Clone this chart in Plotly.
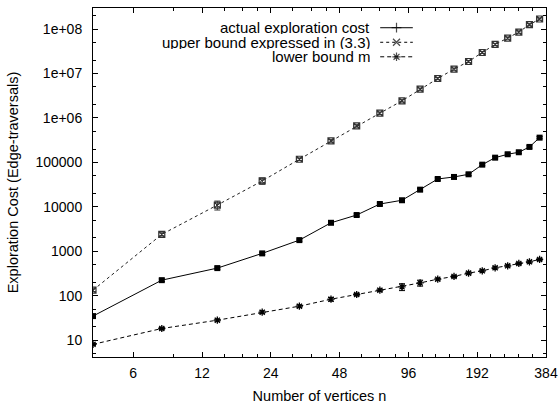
import plotly.graph_objects as go
import math

# ---- data ----
n_vertices = [4, 8, 14, 22, 32, 44, 57, 72, 90, 108, 129, 152, 176, 202, 230, 261, 292, 325, 360]
actual_cost = [35, 225, 420, 900, 1790, 4390, 6560, 11600, 14100, 24400, 42400, 47100,
               54100, 89100, 128000, 152700, 169400, 223000, 361000]
actual_err = [2, 15, 25, 50, 100, 250, 400, 700, 900, 1500, 2500, 3000, 3500, 5000,
              8000, 10000, 10000, 13000, 20000]
upper_bound = [134, 2410, 11000, 38300, 118000, 305000, 663000, 1280000, 2430000, 4450000,
               7710000, 12560000, 18620000, 29700000, 45000000, 62700000, 85600000,
               125000000, 168000000]
upper_err = [10, 200, 2500, 6000, 8000, 20000, 40000, 80000, 150000, 250000, 450000,
             700000, 1000000, 1600000, 2500000, 3500000, 5000000, 7000000, 9000000]
lower_bound = [8.1, 18.4, 28.3, 42.8, 58.4, 83.9, 107, 134, 159, 195, 237, 273, 324, 365,
               426, 472, 535, 582, 659]
lower_err = [0.5, 1, 1.5, 3, 4, 8, 6, 8, 28, 30, 12, 15, 18, 20, 24, 26, 30, 32, 36]

x_tick_vals = [6, 12, 24, 48, 96, 192, 384]
x_tick_text = ["6", "12", "24", "48", "96", "192", "384"]
y_tick_vals = [10, 100, 1000, 10000, 100000, 1e6, 1e7, 1e8]
y_tick_text = ["10", "100", "1000", "10000", "100000", "1e+06", "1e+07", "1e+08"]

series_names = ["actual exploration cost", "upper bound expressed in (3.3)", "lower bound m"]

FONT = "Liberation Sans"
fig = go.Figure()

fig.add_trace(go.Scatter(
    x=n_vertices, y=upper_bound, mode="lines+markers", showlegend=False,
    line=dict(color="#222", width=1, dash="dot"),
    marker=dict(symbol="square-x-open", size=6, color="#333", line=dict(width=1.2, color="#333")),
    error_y=dict(type="data", array=upper_err, color="#333", thickness=1, width=3)))
fig.add_trace(go.Scatter(
    x=n_vertices, y=actual_cost, mode="lines+markers", showlegend=False,
    line=dict(color="black", width=1),
    marker=dict(symbol="square", size=6, color="black"),
    error_y=dict(type="data", array=actual_err, color="black", thickness=1, width=3)))
fig.add_trace(go.Scatter(
    x=n_vertices, y=lower_bound, mode="lines+markers", showlegend=False,
    line=dict(color="black", width=1, dash="4px,3px"),
    marker=dict(symbol="asterisk-open", size=6, color="black", line=dict(width=1.3, color="black")),
    error_y=dict(type="data", array=lower_err, color="black", thickness=1, width=3)))

# ---- gnuplot-style legend (text right, sample on the right) ----
leg_rows = [0.9435, 0.9018, 0.8602]
leg_symbols = ["cross-thin-open", "x-thin-open", "asterisk-open"]
leg_dash = ["solid", "dot", "4px,3px"]
for name, yy, sym, dsh in zip(series_names, leg_rows, leg_symbols, leg_dash):
    fig.add_trace(go.Scatter(
        x=[0.634, 0.670, 0.706], y=[yy, yy, yy], xaxis="x2", yaxis="y2",
        mode="lines+markers", showlegend=False, hoverinfo="skip",
        line=dict(color="black", width=1, dash=dsh),
        marker=dict(symbol=sym, size=[0, 7, 0], color="black", line=dict(width=1.2, color="black"))))
    fig.add_annotation(x=0.6157, y=yy, xref="paper", yref="paper", text=name,
                       showarrow=False, xanchor="right", yanchor="middle", height=13,
                       font=dict(family=FONT, size=15, color="black"))

x_minor = [9, 15, 18, 21, 30, 36, 42, 60, 72, 84] + \
          [96 * 2 ** (k / 5) for k in range(1, 5)] + [192 * 2 ** (k / 5) for k in range(1, 5)]
y_minor = []
for e in range(0, 9):
    for m in (2, 5):
        y_minor.append(m * 10 ** e)

axis_common = dict(showline=True, linecolor="black", linewidth=1, mirror="allticks",
                   ticks="inside", ticklen=5, tickcolor="black", tickwidth=1,
                   showgrid=False, zeroline=False, automargin=False,
                   tickfont=dict(family=FONT, size=14, color="black"))

fig.update_layout(
    width=558, height=404,
    margin=dict(l=92.5, r=12, t=8.3, b=47.3),
    paper_bgcolor="white", plot_bgcolor="white",
    font=dict(family=FONT, size=14, color="black"),
    xaxis=dict(type="log", range=[math.log10(4), math.log10(384)],
               tickmode="array", tickvals=x_tick_vals, ticktext=x_tick_text,
               ticklabelstandoff=3, ticklabeloverflow="allow",
               minor=dict(tickmode="array", tickvals=x_minor, ticks="inside", ticklen=3,
                          tickcolor="black", tickwidth=1, showgrid=False),
               title=dict(text="Number of vertices n", standoff=11,
                          font=dict(family=FONT, size=14.5, color="black")),
               **axis_common),
    yaxis=dict(type="log", range=[0.624, 8.473],
               tickmode="array", tickvals=y_tick_vals, ticktext=y_tick_text,
               ticklabelstandoff=7,
               minor=dict(tickmode="array", tickvals=y_minor, ticks="inside", ticklen=3,
                          tickcolor="black", tickwidth=1, showgrid=False),
               title=dict(text="Exploration Cost (Edge-traversals)", standoff=13,
                          font=dict(family=FONT, size=14.5, color="black")),
               **axis_common),
    xaxis2=dict(overlaying="x", range=[0, 1], visible=False, fixedrange=True),
    yaxis2=dict(overlaying="y", range=[0, 1], visible=False, fixedrange=True),
    showlegend=False,
)

fig.write_html("out.html", config={"displayModeBar": False},
               post_script="document.body.style.margin='0';document.body.style.overflow='hidden';")
